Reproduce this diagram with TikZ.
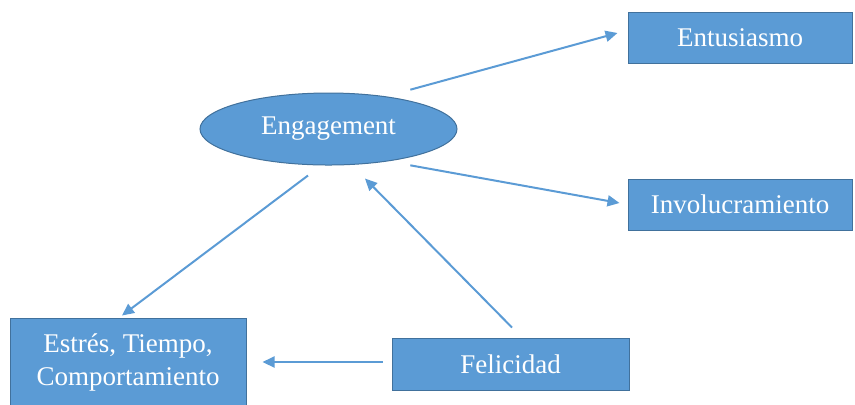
\documentclass[tikz,border=0pt]{standalone}
\usepackage{fontspec}
\setmainfont{Liberation Serif}
\usepackage{xcolor}
\usepackage{tikz}
\usetikzlibrary{shapes.geometric,arrows.meta}
\definecolor{boxblue}{HTML}{5B9BD5}
\definecolor{edgeblue}{HTML}{41719C}

\begin{document}
\begin{tikzpicture}[x=0.5pt, y=-0.5pt,
    box/.style={draw=edgeblue, line width=0.5pt, rectangle, fill=boxblue, text=white, align=center, inner sep=0pt, font=\fontsize{13.5}{16.5}\selectfont},
    link/.style={boxblue, line width=1pt, -{Triangle[length=6pt,width=5.5pt]}}]
            \useasboundingbox (0,0) rectangle (855,404);
            \node[box, ellipse, minimum width=128.5pt, minimum height=36pt] (Engagement) at (328.5,129) {Engagement};
            \node[box, minimum width=112pt, minimum height=25.5pt] (Entusiasmo) at (740,37.5) {Entusiasmo};
            \node[box, minimum width=112pt, minimum height=25.5pt] (Involucramiento) at (740,204.5) {Involucramiento};
            \node[box, minimum width=118pt, minimum height=44pt] (Estres) at (128,362) {Estrés, Tiempo,\\Comportamiento};
            \node[box, minimum width=118.5pt, minimum height=26pt] (Felicidad) at (510.5,364) {Felicidad};
            \draw[link]([shift={(-4.7pt,6.75pt)}]Engagement.north east) -- ([shift={(-5pt,2.25pt)}]Entusiasmo.west);
            \draw[link]([shift={(-4.7pt,-5.25pt)}]Engagement.south east) -- ([shift={(-4pt,0.75pt)}]Involucramiento.west);
            \draw[link]([shift={(-10.25pt,-5pt)}]Engagement.south) -- ([shift={(-3pt,1pt)}]Estres.north);
            \draw[link]([shift={(0.75pt,5pt)}]Felicidad.north) -- ([shift={(18.25pt,-6.5pt)}]Engagement.south);
            \draw[link]([shift={(-4.5pt,1pt)}]Felicidad.west) -- ([shift={(8pt,0pt)}]Estres.east);
            \end{tikzpicture}
\end{document}
